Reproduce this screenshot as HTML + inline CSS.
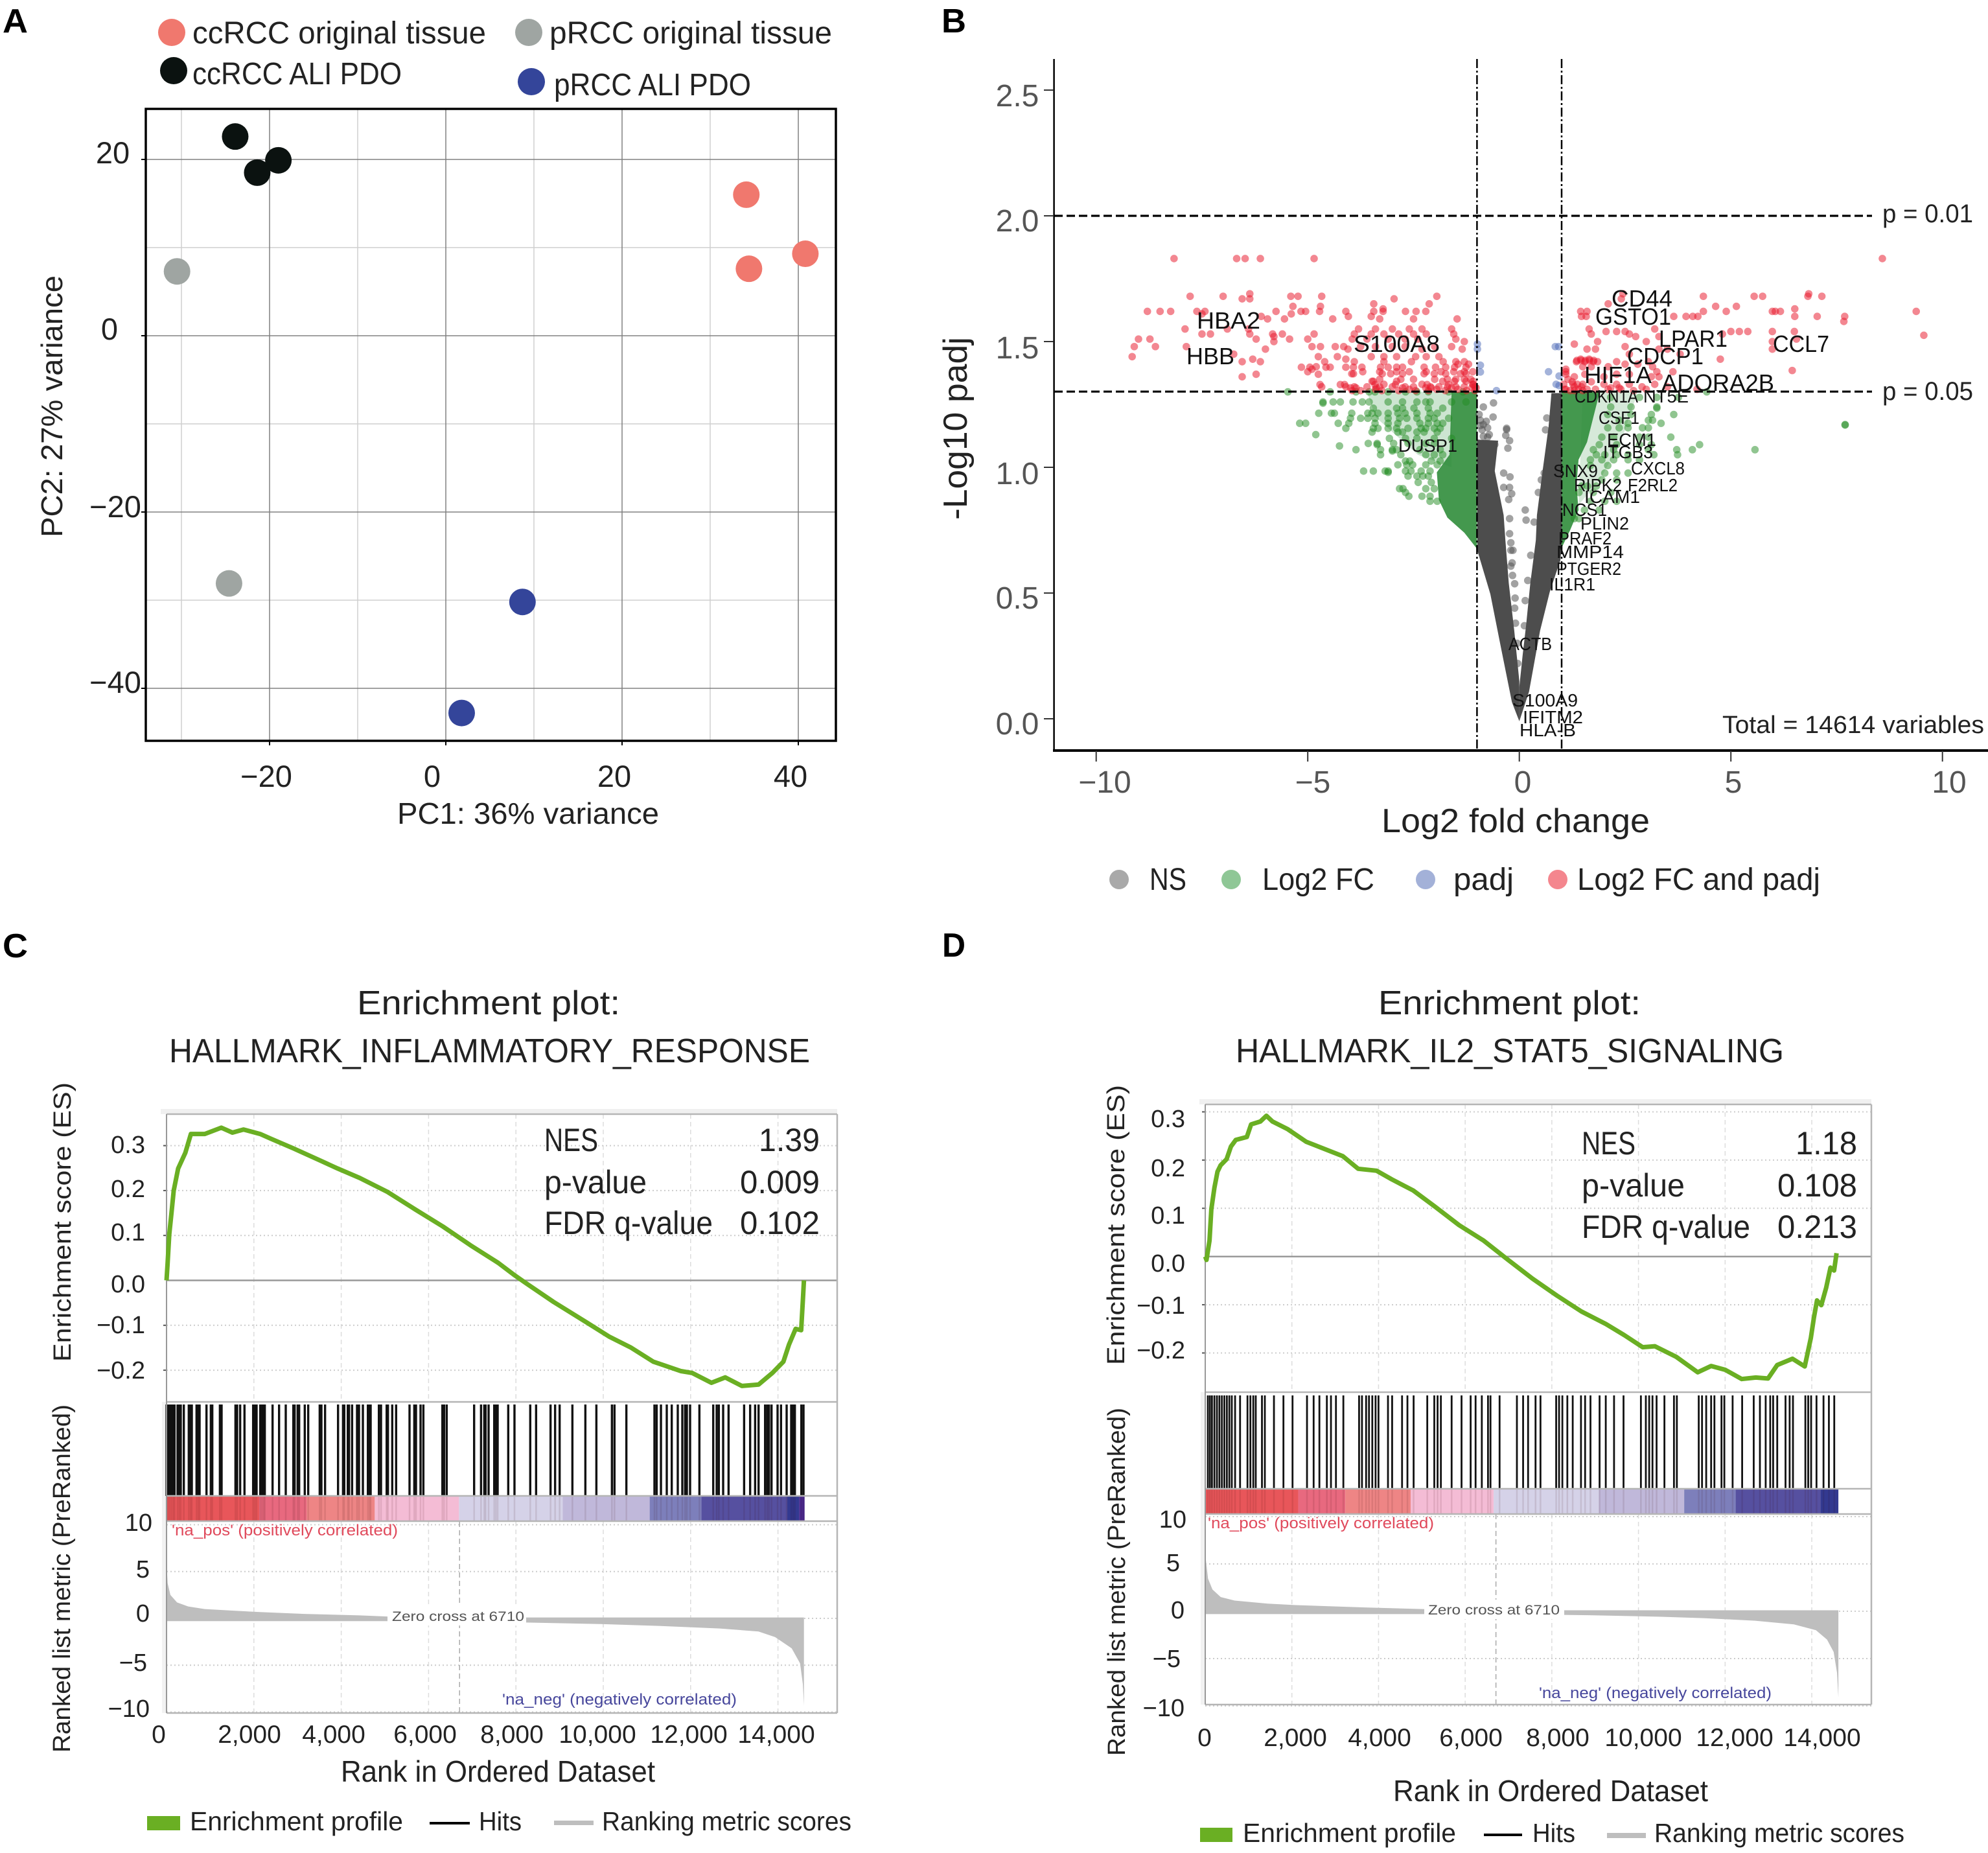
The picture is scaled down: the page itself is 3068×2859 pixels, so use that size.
<!DOCTYPE html>
<html lang="en">
<head>
<meta charset="utf-8">
<title>Tumor organoid figure: PCA, volcano and enrichment plots</title>
<style>
html,body{margin:0;padding:0;background:#fff}
svg{display:block}
text{font-family:"Liberation Sans",sans-serif;fill:#222}
.panel{font-weight:700;font-size:52px;fill:#000}
.a-leg{font-size:48px}
.a-tick{font-size:47px}
.a-title{font-size:46px}
.b-tick{font-size:48px;fill:#555;text-anchor:middle}
.b-gene{font-size:36px;fill:#111}
.b-gene-s{font-size:28px;fill:#111}
.b-leg{font-size:48px}
.g-title{font-size:52px}
.g-tick{font-size:38px}
.g-ytitle{font-size:38px}
.g-stat{font-size:50px}
.g-rank{font-size:39px;text-anchor:middle}
.g-xtitle{font-size:46px}
.g-leg{font-size:41px}
.g-pos{font-size:24px;fill:#e04a5c}
.g-neg{font-size:24px;fill:#47479c}
.g-zero{font-size:21px;fill:#555}
</style>
</head>
<body>
<svg id="figure" xmlns="http://www.w3.org/2000/svg" width="3068" height="2859" viewBox="0 0 3068 2859">
<rect width="3068" height="2859" fill="#fff"/>

<!-- Panel A -->
<g id="panelA">
<text class="panel" x="4" y="50" textLength="39" lengthAdjust="spacingAndGlyphs">A</text>
<g id="pcaGrid"></g>
<rect x="225" y="168" width="1065" height="975" fill="none" stroke="#000" stroke-width="3.5"/>
<g id="pcaTicks"></g>
<g id="pcaPoints"></g>
<circle cx="265" cy="50" r="21" fill="#f0786e"/>
<text class="a-leg" x="297" y="67" textLength="453" lengthAdjust="spacingAndGlyphs">ccRCC original tissue</text>
<circle cx="816" cy="50" r="21" fill="#9fa5a2"/>
<text class="a-leg" x="848" y="67" textLength="436" lengthAdjust="spacingAndGlyphs">pRCC original tissue</text>
<circle cx="268" cy="109" r="21" fill="#0b1210"/>
<text class="a-leg" x="297" y="130" textLength="323" lengthAdjust="spacingAndGlyphs">ccRCC ALI PDO</text>
<circle cx="820" cy="126" r="21" fill="#34459a"/>
<text class="a-leg" x="855" y="147" textLength="304" lengthAdjust="spacingAndGlyphs">pRCC ALI PDO</text>
<text class="a-tick" x="174" y="252" text-anchor="middle">20</text>
<text class="a-tick" x="169" y="524" text-anchor="middle">0</text>
<text class="a-tick" x="178" y="798" text-anchor="middle">−20</text>
<text class="a-tick" x="178" y="1069" text-anchor="middle">−40</text>
<text class="a-tick" x="411" y="1214" text-anchor="middle">−20</text>
<text class="a-tick" x="667" y="1214" text-anchor="middle">0</text>
<text class="a-tick" x="948" y="1214" text-anchor="middle">20</text>
<text class="a-tick" x="1220" y="1214" text-anchor="middle">40</text>
<text class="a-title" x="613" y="1271" textLength="404" lengthAdjust="spacingAndGlyphs">PC1: 36% variance</text>
<text class="a-title" transform="translate(96 829) rotate(-90)" textLength="404" lengthAdjust="spacingAndGlyphs">PC2: 27% variance</text>
</g>

<!-- Panel B -->
<g id="panelB">
<text class="panel" x="1453" y="50" textLength="38" lengthAdjust="spacingAndGlyphs">B</text>
<g id="volcanoMarks"></g>
<g id="volcanoAxes"></g>
<text class="b-tick" x="1570" y="164">2.5</text>
<text class="b-tick" x="1570" y="357">2.0</text>
<text class="b-tick" x="1570" y="553">1.5</text>
<text class="b-tick" x="1570" y="747">1.0</text>
<text class="b-tick" x="1570" y="939">0.5</text>
<text class="b-tick" x="1570" y="1133">0.0</text>
<text class="b-tick" x="1705" y="1223">−10</text>
<text class="b-tick" x="2026" y="1223">−5</text>
<text class="b-tick" x="2350" y="1223">0</text>
<text class="b-tick" x="2675" y="1223">5</text>
<text class="b-tick" x="3008" y="1223">10</text>
<text x="2132" y="1284" font-size="52" textLength="414" lengthAdjust="spacingAndGlyphs">Log2 fold change</text>
<text transform="translate(1492 802) rotate(-90)" font-size="52" textLength="282" lengthAdjust="spacingAndGlyphs">-Log10 padj</text>
<text x="2905" y="343" font-size="40" textLength="140" lengthAdjust="spacingAndGlyphs">p = 0.01</text>
<text x="2905" y="617" font-size="40" textLength="140" lengthAdjust="spacingAndGlyphs">p = 0.05</text>
<text x="2658" y="1131" font-size="38" textLength="404" lengthAdjust="spacingAndGlyphs">Total = 14614 variables</text>
<text class="b-gene" x="2487" y="473" textLength="94" lengthAdjust="spacingAndGlyphs">CD44</text>
<text class="b-gene" x="2462" y="501" textLength="117" lengthAdjust="spacingAndGlyphs">GSTO1</text>
<text class="b-gene" x="1847" y="507" textLength="98" lengthAdjust="spacingAndGlyphs">HBA2</text>
<text class="b-gene" x="2560" y="535" textLength="106" lengthAdjust="spacingAndGlyphs">LPAR1</text>
<text class="b-gene" x="2089" y="543" textLength="133" lengthAdjust="spacingAndGlyphs">S100A8</text>
<text class="b-gene" x="2736" y="543" textLength="87" lengthAdjust="spacingAndGlyphs">CCL7</text>
<text class="b-gene" x="1831" y="562" textLength="74" lengthAdjust="spacingAndGlyphs">HBB</text>
<text class="b-gene" x="2511" y="562" textLength="118" lengthAdjust="spacingAndGlyphs">CDCP1</text>
<text class="b-gene" x="2445" y="591" textLength="104" lengthAdjust="spacingAndGlyphs">HIF1A</text>
<text class="b-gene" x="2564" y="603" textLength="174" lengthAdjust="spacingAndGlyphs">ADORA2B</text>
<text class="b-gene-s" x="2430" y="621" textLength="98" lengthAdjust="spacingAndGlyphs">CDKN1A</text>
<text class="b-gene-s" x="2536" y="621" textLength="70" lengthAdjust="spacingAndGlyphs">NT5E</text>
<text class="b-gene-s" x="2467" y="654" textLength="63" lengthAdjust="spacingAndGlyphs">CSF1</text>
<text class="b-gene-s" x="2480" y="688" textLength="76" lengthAdjust="spacingAndGlyphs">ECM1</text>
<text class="b-gene-s" x="2474" y="707" textLength="77" lengthAdjust="spacingAndGlyphs">ITGB3</text>
<text class="b-gene-s" x="2158" y="697" textLength="91" lengthAdjust="spacingAndGlyphs">DUSP1</text>
<text class="b-gene-s" x="2517" y="732" textLength="83" lengthAdjust="spacingAndGlyphs">CXCL8</text>
<text class="b-gene-s" x="2397" y="736" textLength="69" lengthAdjust="spacingAndGlyphs">SNX9</text>
<text class="b-gene-s" x="2429" y="758" textLength="74" lengthAdjust="spacingAndGlyphs">RIPK2</text>
<text class="b-gene-s" x="2512" y="758" textLength="77" lengthAdjust="spacingAndGlyphs">F2RL2</text>
<text class="b-gene-s" x="2445" y="776" textLength="86" lengthAdjust="spacingAndGlyphs">ICAM1</text>
<text class="b-gene-s" x="2411" y="796" textLength="69" lengthAdjust="spacingAndGlyphs">NCS1</text>
<text class="b-gene-s" x="2439" y="817" textLength="75" lengthAdjust="spacingAndGlyphs">PLIN2</text>
<text class="b-gene-s" x="2405" y="840" textLength="82" lengthAdjust="spacingAndGlyphs">PRAF2</text>
<text class="b-gene-s" x="2402" y="861" textLength="104" lengthAdjust="spacingAndGlyphs">MMP14</text>
<text class="b-gene-s" x="2402" y="887" textLength="100" lengthAdjust="spacingAndGlyphs">PTGER2</text>
<text class="b-gene-s" x="2391" y="911" textLength="71" lengthAdjust="spacingAndGlyphs">IL1R1</text>
<text class="b-gene-s" x="2328" y="1003" textLength="67" lengthAdjust="spacingAndGlyphs">ACTB</text>
<text class="b-gene-s" x="2334" y="1090" textLength="101" lengthAdjust="spacingAndGlyphs">S100A9</text>
<text class="b-gene-s" x="2350" y="1116" textLength="93" lengthAdjust="spacingAndGlyphs">IFITM2</text>
<text class="b-gene-s" x="2345" y="1136" textLength="87" lengthAdjust="spacingAndGlyphs">HLA-B</text>
<circle cx="1727" cy="1357" r="15" fill="#a9a9a9"/>
<text class="b-leg" x="1774" y="1373" textLength="57" lengthAdjust="spacingAndGlyphs">NS</text>
<circle cx="1900" cy="1357" r="15" fill="#8fc796"/>
<text class="b-leg" x="1948" y="1373" textLength="173" lengthAdjust="spacingAndGlyphs">Log2 FC</text>
<circle cx="2200" cy="1357" r="15" fill="#a3b1d8"/>
<text class="b-leg" x="2243" y="1373" textLength="93" lengthAdjust="spacingAndGlyphs">padj</text>
<circle cx="2404" cy="1357" r="15" fill="#f4868e"/>
<text class="b-leg" x="2434" y="1373" textLength="375" lengthAdjust="spacingAndGlyphs">Log2 FC and padj</text>
</g>

<!-- Panel C -->
<g id="panelC">
<text class="panel" x="4" y="1477" textLength="39" lengthAdjust="spacingAndGlyphs">C</text>
<text class="g-title" x="551" y="1565" textLength="406" lengthAdjust="spacingAndGlyphs">Enrichment plot:</text>
<text class="g-title" x="261" y="1639" textLength="989" lengthAdjust="spacingAndGlyphs">HALLMARK_INFLAMMATORY_RESPONSE</text>
<g id="gseaC"></g>
<text class="g-tick" x="224" y="1779" text-anchor="end">0.3</text>
<text class="g-tick" x="224" y="1847" text-anchor="end">0.2</text>
<text class="g-tick" x="224" y="1914" text-anchor="end">0.1</text>
<text class="g-tick" x="224" y="1994" text-anchor="end">0.0</text>
<text class="g-tick" x="224" y="2057" text-anchor="end">−0.1</text>
<text class="g-tick" x="224" y="2127" text-anchor="end">−0.2</text>
<text class="g-tick" x="235" y="2362" text-anchor="end">10</text>
<text class="g-tick" x="231" y="2434" text-anchor="end">5</text>
<text class="g-tick" x="231" y="2502" text-anchor="end">0</text>
<text class="g-tick" x="227" y="2578" text-anchor="end">−5</text>
<text class="g-tick" x="231" y="2649" text-anchor="end">−10</text>
<text class="g-rank" x="245" y="2689">0</text>
<text class="g-rank" x="385" y="2689">2,000</text>
<text class="g-rank" x="515" y="2689">4,000</text>
<text class="g-rank" x="656" y="2689">6,000</text>
<text class="g-rank" x="790" y="2689">8,000</text>
<text class="g-rank" x="922" y="2689">10,000</text>
<text class="g-rank" x="1063" y="2689">12,000</text>
<text class="g-rank" x="1198" y="2689">14,000</text>
<text class="g-ytitle" transform="translate(109 2101) rotate(-90)" textLength="431" lengthAdjust="spacingAndGlyphs">Enrichment score (ES)</text>
<text class="g-ytitle" transform="translate(108 2704) rotate(-90)" textLength="537" lengthAdjust="spacingAndGlyphs">Ranked list metric (PreRanked)</text>
<text class="g-xtitle" x="526" y="2749" textLength="485" lengthAdjust="spacingAndGlyphs">Rank in Ordered Dataset</text>
<text class="g-stat" x="840" y="1776" textLength="83" lengthAdjust="spacingAndGlyphs">NES</text>
<text class="g-stat" x="1171" y="1776" textLength="94" lengthAdjust="spacingAndGlyphs">1.39</text>
<text class="g-stat" x="840" y="1841" textLength="158" lengthAdjust="spacingAndGlyphs">p-value</text>
<text class="g-stat" x="1142" y="1841" textLength="123" lengthAdjust="spacingAndGlyphs">0.009</text>
<text class="g-stat" x="840" y="1904" textLength="260" lengthAdjust="spacingAndGlyphs">FDR q-value</text>
<text class="g-stat" x="1142" y="1904" textLength="123" lengthAdjust="spacingAndGlyphs">0.102</text>
<rect x="598" y="2478" width="214" height="30" fill="#fff"/>
<text class="g-zero" x="605" y="2501" textLength="204" lengthAdjust="spacingAndGlyphs">Zero cross at 6710</text>
<text class="g-pos" x="265" y="2369" textLength="349" lengthAdjust="spacingAndGlyphs">'na_pos' (positively correlated)</text>
<text class="g-neg" x="775" y="2630" textLength="362" lengthAdjust="spacingAndGlyphs">'na_neg' (negatively correlated)</text>
<rect x="227" y="2802" width="51" height="22" fill="#6aaf23"/>
<text class="g-leg" x="293" y="2824" textLength="329" lengthAdjust="spacingAndGlyphs">Enrichment profile</text>
<rect x="663" y="2811" width="62" height="4" fill="#000"/>
<text class="g-leg" x="739" y="2824" textLength="66" lengthAdjust="spacingAndGlyphs">Hits</text>
<rect x="855" y="2809" width="61" height="7" fill="#bebebe"/>
<text class="g-leg" x="929" y="2824" textLength="385" lengthAdjust="spacingAndGlyphs">Ranking metric scores</text>
</g>

<!-- Panel D -->
<g id="panelD">
<text class="panel" x="1454" y="1476" textLength="36" lengthAdjust="spacingAndGlyphs">D</text>
<text class="g-title" x="2127" y="1565" textLength="405" lengthAdjust="spacingAndGlyphs">Enrichment plot:</text>
<text class="g-title" x="1907" y="1639" textLength="846" lengthAdjust="spacingAndGlyphs">HALLMARK_IL2_STAT5_SIGNALING</text>
<g id="gseaD"></g>
<text class="g-tick" x="1829" y="1739" text-anchor="end">0.3</text>
<text class="g-tick" x="1829" y="1815" text-anchor="end">0.2</text>
<text class="g-tick" x="1829" y="1888" text-anchor="end">0.1</text>
<text class="g-tick" x="1829" y="1962" text-anchor="end">0.0</text>
<text class="g-tick" x="1829" y="2027" text-anchor="end">−0.1</text>
<text class="g-tick" x="1829" y="2096" text-anchor="end">−0.2</text>
<text class="g-tick" x="1831" y="2357" text-anchor="end">10</text>
<text class="g-tick" x="1821" y="2424" text-anchor="end">5</text>
<text class="g-tick" x="1828" y="2497" text-anchor="end">0</text>
<text class="g-tick" x="1822" y="2572" text-anchor="end">−5</text>
<text class="g-tick" x="1828" y="2648" text-anchor="end">−10</text>
<text class="g-rank" x="1859" y="2694">0</text>
<text class="g-rank" x="1999" y="2694">2,000</text>
<text class="g-rank" x="2129" y="2694">4,000</text>
<text class="g-rank" x="2270" y="2694">6,000</text>
<text class="g-rank" x="2404" y="2694">8,000</text>
<text class="g-rank" x="2536" y="2694">10,000</text>
<text class="g-rank" x="2677" y="2694">12,000</text>
<text class="g-rank" x="2812" y="2694">14,000</text>
<text class="g-ytitle" transform="translate(1735 2106) rotate(-90)" textLength="432" lengthAdjust="spacingAndGlyphs">Enrichment score (ES)</text>
<text class="g-ytitle" transform="translate(1736 2709) rotate(-90)" textLength="537" lengthAdjust="spacingAndGlyphs">Ranked list metric (PreRanked)</text>
<text class="g-xtitle" x="2150" y="2779" textLength="486" lengthAdjust="spacingAndGlyphs">Rank in Ordered Dataset</text>
<text class="g-stat" x="2441" y="1781" textLength="83" lengthAdjust="spacingAndGlyphs">NES</text>
<text class="g-stat" x="2771" y="1781" textLength="95" lengthAdjust="spacingAndGlyphs">1.18</text>
<text class="g-stat" x="2441" y="1846" textLength="159" lengthAdjust="spacingAndGlyphs">p-value</text>
<text class="g-stat" x="2743" y="1846" textLength="123" lengthAdjust="spacingAndGlyphs">0.108</text>
<text class="g-stat" x="2441" y="1910" textLength="260" lengthAdjust="spacingAndGlyphs">FDR q-value</text>
<text class="g-stat" x="2743" y="1910" textLength="123" lengthAdjust="spacingAndGlyphs">0.213</text>
<rect x="2198" y="2468" width="216" height="30" fill="#fff"/>
<text class="g-zero" x="2204" y="2491" textLength="203" lengthAdjust="spacingAndGlyphs">Zero cross at 6710</text>
<text class="g-pos" x="1864" y="2358" textLength="349" lengthAdjust="spacingAndGlyphs">'na_pos' (positively correlated)</text>
<text class="g-neg" x="2375" y="2620" textLength="359" lengthAdjust="spacingAndGlyphs">'na_neg' (negatively correlated)</text>
<rect x="1852" y="2820" width="50" height="22" fill="#6aaf23"/>
<text class="g-leg" x="1918" y="2842" textLength="329" lengthAdjust="spacingAndGlyphs">Enrichment profile</text>
<rect x="2290" y="2829" width="59" height="4" fill="#000"/>
<text class="g-leg" x="2365" y="2842" textLength="66" lengthAdjust="spacingAndGlyphs">Hits</text>
<rect x="2480" y="2828" width="60" height="8" fill="#bebebe"/>
<text class="g-leg" x="2553" y="2842" textLength="386" lengthAdjust="spacingAndGlyphs">Ranking metric scores</text>
</g>
</svg>

<script>
/* ---------- PCA data ---------- */
const pcaGridMajorX = [-20, 0, 20, 40];
const pcaGridMinorX = [-30, -10, 10, 30];
const pcaGridMajorY = [20, 0, -20, -40];
const pcaGridMinorY = [10, -10, -30];
const ccrccTissuePC1 = [34.1, 34.4, 40.8];
const ccrccTissuePC2 = [16.0, 7.6, 9.3];
const ccrccPdoPC1 = [-23.9, -21.4, -19.0];
const ccrccPdoPC2 = [22.6, 18.5, 19.9];
const prccTissuePC1 = [-30.5, -24.6];
const prccTissuePC2 = [7.3, -28.1];
const prccPdoPC1 = [8.7, 1.8];
const prccPdoPC2 = [-30.2, -42.8];

/* ---------- Volcano data: [log2 fold change, -log10 padj] ---------- */
const volcanoTicksX = [-10, -5, 0, 5, 10];
const volcanoTicksY = [0, 0.5, 1, 1.5, 2, 2.5];
const logFcCutoffs = [-1, 1];
const pCutoffs = [2, 1.301];
const nsLeftEnvelope = [[0,-0.01],[-0.174,0.066],[-0.43,0.28],[-0.685,0.496],[-0.99,0.668],[-1,1.11],[-0.5,1.106],[-0.58,0.985],[-0.37,0.81],[-0.33,0.71],[-0.25,0.54],[-0.12,0.35],[0,0.15]];
const nsRightEnvelope = [[0,-0.01],[0.23,0.108],[0.49,0.35],[0.72,0.505],[0.97,0.63],[1,0.68],[1,1.295],[0.76,1.295],[0.69,1.16],[0.55,0.985],[0.416,0.81],[0.39,0.71],[0.26,0.54],[0.16,0.37],[0.08,0.255],[0,0.126]];
const log2fcLeftOuter = [[-1.6,1],[-2.4,1.05],[-3.4,1.2],[-3.6,1.3],[-1.6,1.3]];
const log2fcLeftCore = [[-1,0.676],[-1.3,0.74],[-1.7,0.8],[-1.9,0.87],[-1.95,0.98],[-1.65,1.05],[-1.6,1.3],[-1,1.3]];
const log2fcRightOuter = [[1.4,0.85],[1.9,0.95],[2.4,1.1],[2.6,1.2],[2.8,1.3],[1.5,1.3]];
const log2fcRightCore = [[1,0.68],[1.2,0.75],[1.4,0.83],[1.35,0.93],[1.4,1.03],[1.6,1.1],[1.75,1.2],[1.9,1.3],[1,1.3]];
const nsScatter = [[-0.61,1.256],[-0.85,1.24],[-0.62,1.2],[-0.3,1.155],[-0.3,1.15],[-0.32,1.127],[-0.23,1.106],[-0.58,1.09],[-0.27,1.076],[-0.37,0.977],[-0.22,0.962],[-0.37,0.92],[-0.23,0.92],[-0.18,0.895],[-0.25,0.872],[-0.23,0.796],[-0.23,0.736],[-0.2,0.7],[-0.2,0.67],[-0.2,0.607],[-0.11,0.537],[-0.11,0.44],[0.65,1.196],[0.62,1.149],[0.14,0.83],[0.16,0.79],[0.35,0.782],[0.45,0.9],[0.52,0.95],[0.59,0.977],[-0.92,1.187],[-0.85,1.17],[-0.75,1.157],[-0.88,1.149],[-0.71,1.13],[-0.85,1.123],[-0.95,1.21],[-0.78,1.183],[-0.92,1.166],[-0.75,1.12],[-0.15,0.67],[-0.17,0.62],[-0.16,0.57],[-0.1,0.48],[-0.09,0.38],[-0.05,0.3],[-0.04,0.22],[0.27,0.65],[0.2,0.55],[0.14,0.47],[0.12,0.37]];
const padjOnly = [[-0.99,1.49],[-0.99,1.47],[-0.92,1.406],[-0.92,1.379],[0.85,1.48],[0.93,1.48],[0.69,1.38],[0.94,1.363],[0.87,1.33],[0.94,1.325],[-0.54,1.305]];
const log2fcScatter = [
[-5.47,1.3],[-4.47,1.3],[-3.86,1.3],[-3.55,1.3],[-3.41,1.3],[-3.1,1.3],[-2.69,1.3],[-2.42,1.3],[-2.15,1.3],[-1.67,1.3],[-1.33,1.3],
[-4.64,1.26],[-4.64,1.255],[-4.4,1.26],[-4.23,1.26],[-3.93,1.26],[-3.71,1.26],[-3.55,1.26],[-3.1,1.26],[-2.76,1.26],[-2.42,1.26],[-2.21,1.26],[-2.11,1.26],[-1.6,1.26],[-1.26,1.26],
[-3.45,1.235],[-2.9,1.235],[-2.76,1.235],[-2.49,1.235],[-2.15,1.235],[-1.81,1.235],
[-4.74,1.215],[-4.44,1.215],[-4.37,1.215],[-3.96,1.215],[-3.58,1.215],[-3.48,1.215],[-3.34,1.215],[-3.1,1.215],[-2.87,1.215],[-2.7,1.215],[-2.42,1.215],[-2.11,1.215],[-1.94,1.215],
[-3.99,1.195],[-3.75,1.195],[-3.58,1.195],[-3.41,1.195],[-3.1,1.195],[-2.83,1.195],[-2.66,1.195],[-2.42,1.195],[-2.15,1.195],[-2.01,1.195],[-1.67,1.195],
[-5.19,1.175],[-5.05,1.175],[-4.28,1.175],[-4.03,1.175],[-3.41,1.175],[-3.1,1.175],[-2.87,1.175],[-2.35,1.175],[-2.15,1.175],[-1.94,1.175],[-1.81,1.175],
[-4.1,1.155],[-3.45,1.155],[-3.34,1.155],[-3.1,1.155],[-2.9,1.155],[-2.63,1.155],[-2.32,1.155],[-2.21,1.155],[-2.01,1.155],[-1.87,1.155],
[-3.48,1.14],[-2.87,1.14],[-2.76,1.14],[-2.42,1.14],[-2.25,1.14],[-1.94,1.14],[-4.81,1.13],
[-3.07,1.115],[-2.69,1.115],[-2.42,1.115],[-2.01,1.115],[-1.6,1.115],
[-3.57,1.095],[-3.36,1.095],[-3.36,1.09],[-2.97,1.095],[-2.63,1.095],[-2.21,1.095],[-2.01,1.095],[-4.25,1.085],
[-3.86,1.07],[-3.28,1.07],[-3,1.07],[-3,1.065],[-2.9,1.07],[-2.35,1.07],[-1.87,1.07],
[-3.28,1.05],[-2.8,1.05],[-2.21,1.05],[-2.01,1.05],[-1.81,1.05],
[-2.69,1.025],[-2.59,1.025],[-2.08,1.025],[-1.87,1.025],
[-2.87,1.01],[-2.66,1.01],[-2.52,1.01],[-2.21,1.01],[-1.94,1.01],
[-3.68,0.985],[-3.45,0.985],[-3.17,0.985],[-3.1,0.985],[-3.1,0.98],[-2.69,0.985],[-2.56,0.985],[-2.32,0.985],[-2.11,0.985],
[-2.63,0.965],[-2.42,0.965],[-2.28,0.965],[-2.15,0.965],[-2.39,0.94],[-2.08,0.94],
[-2.83,0.915],[-2.75,0.915],[-2.21,0.915],[-2.01,0.915],[-2.69,0.9],[-2.61,0.885],[-2.3,0.885],[-2.11,0.885],[-2.11,0.865],[-1.94,0.865],
[4.43,1.3],[2.16,1.278],[2.84,1.278],[3.25,1.278],[3.76,1.278],[3.25,1.24],[3.25,1.235],[2.64,1.24],[2.16,1.24],
[3.12,1.21],[3.65,1.21],[2.64,1.21],[2.09,1.21],[3.05,1.187],[3.15,1.187],[2.36,1.187],[3.35,1.175],[2.57,1.175],
[2.09,1.157],[2.36,1.157],[2.57,1.157],[2.91,1.157],[3.05,1.157],[3.58,1.12],[2.84,1.12],[3.05,1.12],[2.23,1.12],[1.95,1.12],
[4.26,1.09],[1.89,1.09],[2.3,1.09],[2.84,1.09],[3.12,1.09],[4.09,1.07],[3.72,1.07],[1.75,1.07],[2.23,1.07],[3.05,1.07],
[3.74,1.05],[3.18,1.05],[1.82,1.05],[2.57,1.05],[2.02,1.05],[2.3,1.05],[1.68,1.03],[1.95,1.03],[2.23,1.03],[2.57,1.03],[2.84,1.03],
[2.09,1.007],[1.68,1.007],[2.3,0.977],[2.57,0.977],[2.02,0.977],[1.95,0.95],[2.3,0.95],[1.61,0.925],[1.82,0.925],[1.47,0.925],
[1.41,0.9],[1.75,0.9],[2.16,0.9],[1.68,0.865],[2.02,0.865],[2.3,0.865],[1.54,0.83],[1.89,0.83],[1.41,0.796],[1.3,0.796],
[5.57,1.07],[7.7,1.17],[7.7,1.168]];
const log2fcAndPadj = [[-8.16,1.83],[-6.68,1.83],[-6.48,1.83],[-6.12,1.83],[-4.85,1.83],[8.58,1.83],
[-7.78,1.68],[-7,1.68],[-6.55,1.67],[-6.37,1.69],[-6.37,1.67],[-5.4,1.68],[-5.23,1.68],[-4.67,1.68],[-2.96,1.67],[-1.95,1.68],
[-5.35,1.64],[-4.7,1.64],[-3.44,1.65],[-2.13,1.65],
[-8.79,1.62],[-8.49,1.62],[-8.24,1.62],[-7.62,1.62],[-7.43,1.62],[-7.5,1.61],[-5.75,1.62],[-5.39,1.61],[-5.16,1.62],[-5.05,1.62],[-4.72,1.62],[-4.1,1.62],[-3.44,1.62],[-3.22,1.63],[-3.22,1.62],[-2.69,1.62],[-2.44,1.62],[-2.21,1.62],
[-4.41,1.59],[-4.04,1.6],[-3.5,1.6],[-3.3,1.59],[-5.95,1.59],[-5.55,1.59],[-1.47,1.59],[-2.5,1.59],[-6.1,1.6],
[-7.9,1.55],[-3.8,1.55],[-3.4,1.55],[-3,1.55],[-2.6,1.55],[-2.3,1.55],[-1.6,1.55],[-6.9,1.55],[-6.4,1.55],
[-7.5,1.53],[-7.3,1.53],[-6.37,1.53],[-5.83,1.53],[-5.8,1.52],[-5.6,1.53],[-4.85,1.53],[-3.9,1.53],[-3.5,1.53],[-3.2,1.53],[-2.85,1.53],[-2.5,1.53],[-2.2,1.53],[-1.55,1.53],
[-9,1.51],[-8.73,1.51],[-6.22,1.51],[-5.8,1.5],[-5.43,1.51],[-5,1.51],[-3.95,1.51],[-3.6,1.51],[-3.1,1.51],[-2.7,1.51],[-2.4,1.51],[-1.5,1.51],[-1.3,1.5],
[-9.1,1.48],[-8.6,1.48],[-7.87,1.48],[-6,1.47],[-4.9,1.48],[-4.7,1.48],[-4.35,1.48],[-4.15,1.48],[-4.05,1.47],[-3.75,1.48],[-3.4,1.48],[-3,1.48],[-2.7,1.48],[-2.3,1.47],[-2,1.48],[-1.6,1.48],[-1.35,1.47],
[-9.15,1.44],[-6.75,1.45],[-6.3,1.43],[-4.75,1.44],[-4.3,1.44],[-4.1,1.43],[-3.5,1.44],[-3.2,1.44],[-2.9,1.44],[-2.45,1.44],[-2.2,1.44],[-1.9,1.44],
[-6.55,1.42],[-6.12,1.42],[-4.8,1.4],[-4.6,1.42],[-3.9,1.42],[-3.2,1.42],[-2.55,1.42],[-1.8,1.42],[-1.5,1.42],[-1.45,1.41],[-1.3,1.42],[-1.2,1.41],
[-5.15,1.398],[-4.95,1.398],[-4.57,1.398],[-4.47,1.398],[-4.1,1.398],[-3.92,1.398],[-3.72,1.398],[-3.28,1.398],[-3.1,1.398],[-2.9,1.398],[-2.76,1.398],[-2.25,1.398],[-1.98,1.398],[-1.74,1.398],[-1.53,1.398],[-1.26,1.398],
[-5,1.38],[-4.9,1.39],[-4.75,1.37],[-3.7,1.38],[-3.3,1.38],[-2.9,1.38],[-2.6,1.38],[-2.2,1.38],[-1.85,1.38],[-1.55,1.38],[-1.3,1.38],[-1.1,1.38],
[-3.96,1.372],[-3.92,1.372],[-3.24,1.372],[-3.04,1.372],[-2.76,1.372],[-2.25,1.372],[-2.01,1.372],[-1.74,1.372],[-1.39,1.372],[-1.26,1.372],
[-6.55,1.36],[-6.22,1.37],[-3.3,1.35],[-2.8,1.35],[-2.5,1.35],[-2,1.35],[-1.7,1.35],[-1.5,1.35],[-1.3,1.35],[-1.15,1.35],
[-3.48,1.342],[-3.45,1.342],[-2.9,1.342],[-1.81,1.342],[-1.53,1.342],[-1.26,1.342],[-1.09,1.342],
[-4.71,1.329],[-4.23,1.329],[-4.13,1.329],[-3.41,1.329],[-2.93,1.329],[-2.18,1.329],[-1.67,1.329],[-1.09,1.329],
[-4.67,1.32],[-4.1,1.32],[-3.9,1.32],[-3.6,1.32],[-3.3,1.32],[-3.2,1.33],[-3,1.32],[-2.7,1.32],[-2.5,1.32],[-2.3,1.33],[-2.1,1.32],[-1.9,1.32],[-1.7,1.32],[-1.5,1.32],[-1.3,1.32],[-1.1,1.33],[-1.05,1.32],
[-3.99,1.316],[-3.86,1.316],[-3.38,1.316],[-2.76,1.316],[-2.21,1.316],[-2.08,1.316],[-1.6,1.316],[-1.12,1.316],[-1.02,1.316],
[-3.95,1.305],[-3.75,1.305],[-3.4,1.31],[-3.25,1.305],[-2.85,1.305],[-2.6,1.31],[-2.45,1.305],[-2.15,1.305],[-1.95,1.31],[-1.75,1.305],[-1.45,1.31],[-1.25,1.305],[-1.05,1.305],
[2.41,1.67],[2.45,1.69],[4.35,1.68],[5.55,1.68],[5.75,1.68],[6.82,1.68],[6.84,1.69],[7.15,1.68],[2.1,1.65],[4.64,1.64],[5.13,1.64],
[1.45,1.62],[1.6,1.62],[1.58,1.6],[1.47,1.6],[3.94,1.6],[4.1,1.6],[4.22,1.6],[3.65,1.6],[4.35,1.62],[4.89,1.62],[5.98,1.62],[6.05,1.62],[6.17,1.62],[6.51,1.63],[6.51,1.6],[7.04,1.6],[7.69,1.6],[7.67,1.58],[9.38,1.62],
[1.65,1.55],[1.7,1.53],[2.05,1.54],[2.3,1.54],[2.5,1.54],[2.6,1.53],[2.75,1.52],[3.2,1.55],[3.3,1.52],[5.4,1.54],[5.2,1.54],[5,1.54],[4.8,1.53],[5.98,1.54],[6.5,1.54],[6.55,1.51],[5.98,1.5],[9.56,1.525],
[1.3,1.49],[1.6,1.47],[1.8,1.47],[1.85,1.5],[2.5,1.48],[2.6,1.45],[3,1.5],[3.3,1.47],[3.5,1.47],[3.8,1.45],[4.75,1.43],[5.98,1.47],
[1.35,1.42],[1.45,1.43],[1.55,1.42],[1.65,1.43],[1.75,1.42],[1.85,1.42],[1.5,1.4],[1.7,1.4],[2.1,1.4],[2.3,1.42],[2.5,1.41],[2.8,1.41],[3.05,1.42],[3.15,1.4],[6.45,1.385],
[1.36,1.425],[1.46,1.425],[1.56,1.425],[1.66,1.425],[1.76,1.425],
[1.1,1.39],[1.1,1.37],[1.3,1.36],[1.55,1.37],[2,1.36],[2.3,1.37],[2.6,1.37],[3.3,1.36],[1.15,1.35],[1.25,1.34],[1.1,1.38],[3.25,1.38],[3.63,1.38],[3.12,1.36],
[1.05,1.33],[1.1,1.31],[1.3,1.32],[1.5,1.33],[1.7,1.34],[2,1.33],[2.3,1.33],[2.6,1.33],[2.9,1.32],[3.2,1.33],[3.5,1.32],[4.2,1.31],[1.27,1.33],[1.37,1.33],[1.47,1.32],[1.07,1.31],[2.16,1.316],[2.36,1.316],
[1.2,1.305],[1.4,1.31],[1.6,1.31],[1.8,1.31],[2.1,1.31],[2.4,1.31],[2.7,1.305],[3,1.31],[1.5,1.305],[1.3,1.305]];

/* ---------- Enrichment plot data ---------- */
const rankGridTicks = [2000, 4000, 6000, 8000, 10000, 12000, 14000];
const esGridTicks = [0.3, 0.2, 0.1, -0.1, -0.2];
const metricGridTicks = [10, 5, 0, -5, -10];
const zeroCrossRank = 6710;
const totalGenes = 14614;

const esRanksC = [0,25,63,114,165,266,431,558,875,1255,1509,1763,2143,2397,2904,3538,3918,4425,5059,5693,6327,6961,7595,7976,8229,8863,9624,10131,10639,11146,11780,12033,12477,12794,13175,13555,13872,14125,14252,14405,14531,14569,14595];
const esScoresC = [0,.039,.102,.151,.2,.249,.284,.326,.326,.34,.329,.336,.326,.315,.294,.266,.249,.228,.197,.158,.12,.078,.039,.011,-.006,-.048,-.094,-.125,-.15,-.181,-.202,-.206,-.228,-.216,-.235,-.232,-.206,-.181,-.143,-.108,-.111,-.045,0];
const hitRanksC = [0,20,64,109,153,183,252,292,326,396,509,549,579,687,727,757,915,1014,1048,1222,1261,1578,1617,1686,1785,1983,2023,2062,2146,2186,2226,2250,2428,2577,2730,2903,2933,3002,3037,3165,3244,3507,3546,3630,3927,4041,4070,4150,4179,4249,4362,4407,4496,4610,4649,4674,4862,4911,5040,5070,5168,5257,5564,5673,5712,5816,5881,6316,6355,6415,7043,7201,7275,7305,7374,7503,7542,7582,7824,7967,8328,8462,8793,8897,9001,9293,9590,9842,10198,10257,10529,11172,11222,11321,11454,11568,11706,11810,11874,11914,11988,12201,12518,12597,12646,12745,12869,13225,13363,13477,13556,13705,13754,13794,13853,13991,14070,14199,14303,14348,14387,14535,14585];
const barEndRanksC = [2122,3210,4768,6697,9070,11063,12245,14214,14486,14610];
const metricRanksC = [0,25,89,241,495,875,1509,2143,3157,4425,5059,6710,8229,9941,11273,12667,13555,13935,14315,14506,14569,14595];
const metricValuesC = [6,3.75,2.5,1.7,1.27,1,.83,.67,.48,.32,.2,0,-.44,-.6,-.8,-1.08,-1.4,-2,-3.2,-4.8,-7,-9.3];

const esRanksD = [0,28,99,141,212,282,353,494,593,706,960,1059,1271,1412,1553,1906,2330,2895,3177,3530,3954,4307,4801,5295,5860,6425,6990,7554,8119,8684,9249,9672,10096,10378,10872,11367,11678,12002,12383,12708,12990,13202,13555,13838,13979,14049,14120,14219,14332,14431,14516,14572];
const esScoresD = [0,-.007,.033,.098,.143,.176,.189,.202,.228,.242,.248,.274,.28,.292,.28,.264,.238,.218,.208,.182,.178,.16,.137,.104,.065,.033,-.007,-.046,-.081,-.114,-.14,-.163,-.188,-.186,-.208,-.24,-.227,-.235,-.254,-.251,-.253,-.225,-.212,-.228,-.169,-.127,-.091,-.101,-.065,-.023,-.029,.007];
const hitRanksD = [60,108,155,212,270,327,384,441,499,556,613,689,804,975,1042,1109,1166,1309,1376,1586,1805,2015,2349,2502,2635,2807,2902,3017,3188,3551,3618,3713,3780,3856,3932,3999,4218,4314,4543,4667,4810,5125,5287,5363,5439,5687,5916,6126,6240,6384,6527,6584,6794,7194,7337,7452,7624,7738,8100,8167,8243,8358,8482,8673,8768,8892,9102,9245,9436,9655,10056,10170,10247,10323,10418,10599,10819,10886,11391,11467,11563,11677,11753,11916,11982,12173,12393,12660,12803,12936,13041,13108,13203,13394,13489,13566,13852,13918,13985,14109,14271,14395,14519];
const barEndRanksD = [2147,3233,4741,6658,9087,11055,12243,14199,14614];
const metricRanksD = [0,64,166,358,677,1444,2083,3745,5023,6710,8857,10518,11540,12690,13585,14096,14352,14505,14582,14614];
const metricValuesD = [6,3.45,2.3,1.5,1.13,.8,.65,.39,.23,0,-.42,-.58,-.74,-1,-1.39,-2,-3,-4.3,-6.5,-9.1];

/* ---------- helpers ---------- */
const SVG_NS = 'http://www.w3.org/2000/svg';
function make(tag, parent, attrs) {
  const el = document.createElementNS(SVG_NS, tag);
  for (const k in attrs) el.setAttribute(k, attrs[k]);
  parent.appendChild(el);
  return el;
}
function polyPoints(pairs, sx, sy) {
  return pairs.map(p => sx(p[0]).toFixed(1) + ',' + sy(p[1]).toFixed(1)).join(' ');
}

/* ---------- PCA ---------- */
(function () {
  const x = v => 688 + 13.6 * v;
  const y = v => 518 - 13.6 * v;
  const grid = document.getElementById('pcaGrid');
  const ticks = document.getElementById('pcaTicks');
  const points = document.getElementById('pcaPoints');
  pcaGridMinorX.forEach(v => {
    const el = make('line', grid, {x1: x(v), x2: x(v), y1: 168, y2: 1143, stroke: '#cfcfcf', 'stroke-width': 1.5});
    
    
  });
  pcaGridMinorY.forEach(v => {
    const el = make('line', grid, {x1: 225, x2: 1290, y1: y(v), y2: y(v), stroke: '#cfcfcf', 'stroke-width': 1.5});
    
    
  });
  pcaGridMajorX.forEach(v => {
    const el = make('line', grid, {x1: x(v), x2: x(v), y1: 168, y2: 1143, stroke: '#808080', 'stroke-width': 1.5});
    
    
    const tick = make('line', ticks, {x1: x(v), x2: x(v), y1: 1143, y2: 1150, stroke: '#000', 'stroke-width': 2});
    
    
  });
  pcaGridMajorY.forEach(v => {
    const el = make('line', grid, {x1: 225, x2: 1290, y1: y(v), y2: y(v), stroke: '#808080', 'stroke-width': 1.5});
    
    
    const tick = make('line', ticks, {x1: 218, x2: 225, y1: y(v), y2: y(v), stroke: '#000', 'stroke-width': 2});
    
    
  });
  function series(xs, ys, colour, name) {
    xs.forEach((v, i) => {
      const dot = make('circle', points, {cx: x(v), cy: y(ys[i]), r: 20.5, fill: colour});
      
      
    });
  }
  series(ccrccTissuePC1, ccrccTissuePC2, '#f0786e', 'point-ccrcc-tissue');
  series(prccTissuePC1, prccTissuePC2, '#9fa5a2', 'point-prcc-tissue');
  series(ccrccPdoPC1, ccrccPdoPC2, '#0b1210', 'point-ccrcc-pdo');
  series(prccPdoPC1, prccPdoPC2, '#34459a', 'point-prcc-pdo');
})();

/* ---------- Volcano ---------- */
(function () {
  const x = v => 2344.7 + 65.3 * v;
  const y = v => 1109 - 388 * v;
  const marks = document.getElementById('volcanoMarks');
  const axes = document.getElementById('volcanoAxes');
  function envelope(pairs, colour, opacity, name) {
    const el = make('polygon', marks, {points: polyPoints(pairs, x, y), fill: colour, 'fill-opacity': opacity});
    
    
  }
  function scatter(pairs, colour, opacity, name) {
    pairs.forEach(p => {
      const dot = make('circle', marks, {cx: x(p[0]), cy: y(p[1]), r: 5.8, fill: colour, 'fill-opacity': opacity});
      
      
    });
  }
  envelope(log2fcLeftOuter, '#5aa867', 0.3, 'log2fc-left-density');
  envelope(log2fcLeftCore, '#2a8a36', 0.88, 'log2fc-left-core');
  envelope(log2fcRightOuter, '#5aa867', 0.25, 'log2fc-right-density');
  envelope(log2fcRightCore, '#2a8a36', 0.88, 'log2fc-right-core');
  scatter(log2fcScatter, '#228b22', 0.5, 'point-log2fc');
  scatter(nsScatter, '#555', 0.55, 'point-ns');
  envelope(nsLeftEnvelope, '#4d4d4d', 1, 'ns-left-density');
  envelope(nsRightEnvelope, '#4d4d4d', 1, 'ns-right-density');
  scatter(padjOnly, '#4a68b5', 0.5, 'point-padj');
  scatter(log2fcAndPadj, '#e8192c', 0.52, 'point-log2fc-and-padj');

  logFcCutoffs.forEach(v => {
    const el = make('line', marks, {x1: x(v), x2: x(v), y1: 91, y2: 1158, stroke: '#000', 'stroke-width': 2.5, 'stroke-dasharray': '14 4 3 4'});
    
    
  });
  pCutoffs.forEach(v => {
    const el = make('line', marks, {x1: 1627, x2: 2889, y1: y(v), y2: y(v), stroke: '#000', 'stroke-width': 3.2, 'stroke-dasharray': '13 6'});
    
    
  });
  const yAxis = make('line', axes, {x1: 1626.6, x2: 1626.6, y1: 91, y2: 1158, stroke: '#000', 'stroke-width': 2.5});
  
  
  const xAxis = make('line', axes, {x1: 1625, x2: 3068, y1: 1158, y2: 1158, stroke: '#000', 'stroke-width': 4});
  
  
  volcanoTicksX.forEach(v => {
    const t = make('line', axes, {x1: x(v), x2: x(v), y1: 1158, y2: 1175, stroke: '#333', 'stroke-width': 2});
    
    
  });
  volcanoTicksY.forEach(v => {
    const t = make('line', axes, {x1: 1611, x2: 1626, y1: y(v), y2: y(v), stroke: '#333', 'stroke-width': 2});
    
    
  });
})();

/* ---------- Enrichment plots ---------- */
function drawGsea(host, frame, esRanks, esScores, hitRanks, barEnds, metricRanks, metricValues) {
  const x = r => frame.left + frame.perRank * r;
  const yEs = v => frame.esZero - frame.perEs * v;
  const yM = v => frame.metricZero - frame.perMetric * v;
  const barColours = ['#e8565a', '#e8697f', '#ee8585', '#f4bcd5', '#d5d2e8', '#c0b8da', '#7d7fbb', '#5650a0', '#333990', '#4a2a90'];

  const strip = make('rect', host, {x: frame.left - 9, y: frame.top - 8, width: frame.right - frame.left + 9, height: 8, fill: '#f0f0f0'});
  
  
  const sideStrip = make('rect', host, {x: frame.left - 7, y: frame.esBottom, width: 7, height: frame.bottom - frame.esBottom, fill: '#f2f2f2'});
  
  

  rankGridTicks.forEach(r => {
    const g1 = make('line', host, {x1: x(r), x2: x(r), y1: frame.top, y2: frame.esBottom, stroke: '#ddd', 'stroke-width': 1.5, 'stroke-dasharray': '7 5'});
    
    
    const g2 = make('line', host, {x1: x(r), x2: x(r), y1: frame.metricTop, y2: frame.bottom, stroke: '#ddd', 'stroke-width': 1.5, 'stroke-dasharray': '7 5'});
    
    
  });
  esGridTicks.forEach(v => {
    const g = make('line', host, {x1: frame.left, x2: frame.right, y1: yEs(v), y2: yEs(v), stroke: '#ccc', 'stroke-width': 2, 'stroke-dasharray': '2 4'});
    
    
    const t = make('line', host, {x1: frame.left - 5, x2: frame.left, y1: yEs(v), y2: yEs(v), stroke: '#555', 'stroke-width': 2});
    
    
  });
  metricGridTicks.forEach(v => {
    const g = make('line', host, {x1: frame.left, x2: frame.right, y1: yM(v), y2: yM(v), stroke: '#ccc', 'stroke-width': 2, 'stroke-dasharray': '2 4'});
    
    
  });
  const zeroEs = make('line', host, {x1: frame.left, x2: frame.right, y1: yEs(0), y2: yEs(0), stroke: '#999', 'stroke-width': 2.5});
  
  

  /* metric area */
  const topEdge = metricRanks.map((r, i) => x(r).toFixed(1) + ',' + yM(metricValues[i] > 0.1 ? metricValues[i] : 0.1).toFixed(1));
  const lowEdge = metricRanks.map((r, i) => x(r).toFixed(1) + ',' + yM(metricValues[i] < -0.3 ? metricValues[i] : -0.3).toFixed(1)).reverse();
  const area = make('polygon', host, {points: topEdge.concat(lowEdge).join(' '), fill: '#bebebe'});
  
  

  const cross = make('line', host, {x1: x(zeroCrossRank), x2: x(zeroCrossRank), y1: frame.metricTop, y2: frame.bottom, stroke: '#aaa', 'stroke-width': 1.5, 'stroke-dasharray': '8 5'});
  
  

  /* colour bar */
  let prevEnd = 0;
  barEnds.forEach((end, i) => {
    const seg = make('rect', host, {x: x(prevEnd), y: frame.hitBottom, width: x(end) - x(prevEnd), height: frame.barBottom - frame.hitBottom, fill: barColours[i]});
    
    
    prevEnd = end;
  });

  /* hits */
  hitRanks.forEach(r => {
    const hit = make('line', host, {x1: x(r), x2: x(r), y1: frame.hitTop, y2: frame.hitBottom, stroke: '#111', 'stroke-width': frame.hitWidth});
    
    
    const stripe = make('line', host, {x1: x(r), x2: x(r), y1: frame.hitBottom, y2: frame.barBottom, stroke: '#300', 'stroke-width': 2.5, 'stroke-opacity': 0.1});
    
    
  });

  /* frame lines */
  [[frame.left, frame.top, frame.right, frame.top], [frame.left, frame.esBottom, frame.right, frame.esBottom],
   [frame.left, frame.hitBottom, frame.right, frame.hitBottom], [frame.left, frame.barBottom + 1, frame.right, frame.barBottom + 1],
   [frame.left, frame.bottom, frame.right, frame.bottom], [frame.right, frame.top, frame.right, frame.bottom]].forEach(s => {
    const l = make('line', host, {x1: s[0], y1: s[1], x2: s[2], y2: s[3], stroke: '#b5b5b5', 'stroke-width': 2.5});
    
    
  });
  const leftEdge = make('line', host, {x1: frame.left, y1: frame.top, x2: frame.left, y2: frame.bottom, stroke: '#999', 'stroke-width': 2});
  
  

  /* enrichment profile */
  const profile = make('polyline', host, {
    points: esRanks.map((r, i) => x(r).toFixed(1) + ',' + yEs(esScores[i]).toFixed(1)).join(' '),
    fill: 'none', stroke: '#6aaf23', 'stroke-width': 7, 'stroke-linejoin': 'round'
  });
  
  
}

drawGsea(document.getElementById('gseaC'),
  {left: 257, right: 1292, top: 1719, esBottom: 2163, hitTop: 2167, hitBottom: 2308, barBottom: 2346, metricTop: 2348, bottom: 2643,
   perRank: 0.0674, esZero: 1975.5, perEs: 693, metricZero: 2497, perMetric: 14.45, hitWidth: 3.4},
  esRanksC, esScoresC, hitRanksC, barEndRanksC, metricRanksC, metricValuesC);

drawGsea(document.getElementById('gseaD'),
  {left: 1860, right: 2888, top: 1704, esBottom: 2148, hitTop: 2153, hitBottom: 2297, barBottom: 2335, metricTop: 2336, bottom: 2630,
   perRank: 0.06686, esZero: 1938.7, perEs: 744, metricZero: 2486, perMetric: 14.6, hitWidth: 2.8},
  esRanksD, esScoresD, hitRanksD, barEndRanksD, metricRanksD, metricValuesD);
</script>
</body>
</html>
